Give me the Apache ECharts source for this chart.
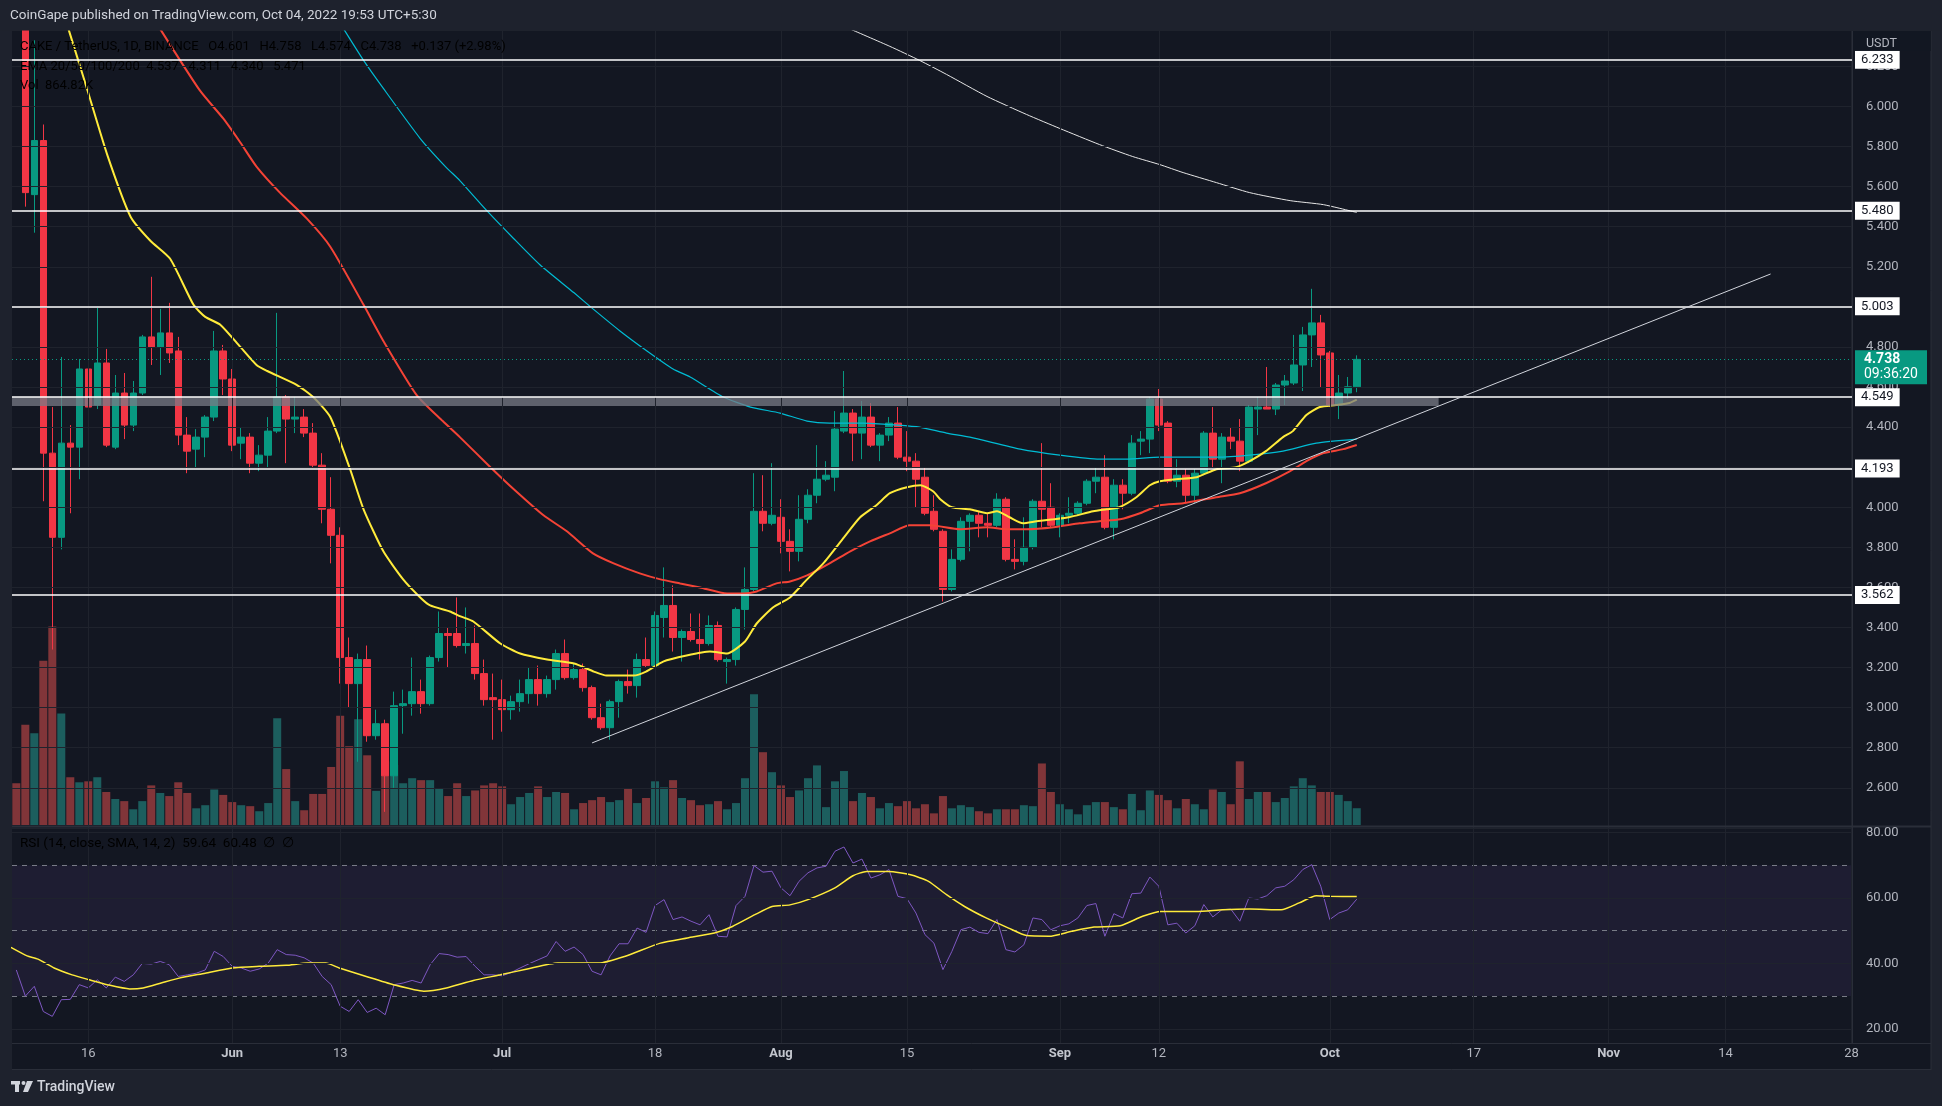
<!DOCTYPE html>
<html><head><meta charset="utf-8">
<script src="https://cdn.jsdelivr.net/npm/echarts@6/dist/echarts.min.js"></script>
<style>html,body{margin:0;padding:0;background:#1e222d;}#c{width:1942px;height:1106px;}</style>
</head><body><div id="c"></div>
<script>
// Day index 0 = 2022-05-09 ; first candle is 2022-05-08 (index -1)
const startIndex = -1;
const opens  = [7.10,6.70,5.56,5.83,4.27,3.85,4.32,4.30,4.69,4.51,4.72,4.30,4.57,4.41,4.57,4.85,4.80,4.87,4.78,4.36,4.29,4.35,4.45,4.78,4.64,4.32,4.35,4.22,4.26,4.38,4.55,4.44,4.45,4.37,4.21,3.99,3.86,3.25,3.12,3.24,2.86,2.92,2.66,3.01,3.02,3.08,3.02,3.25,3.37,3.37,3.31,3.32,3.17,3.05,3.04,2.99,3.03,3.07,3.14,3.07,3.14,3.27,3.15,3.19,3.10,2.95,2.90,3.03,3.13,3.11,3.24,3.21,3.45,3.51,3.35,3.38,3.34,3.32,3.41,3.23,3.24,3.49,3.59,3.98,3.92,3.95,3.83,3.78,3.94,4.06,4.14,4.15,4.38,4.47,4.37,4.45,4.31,4.36,4.42,4.25,4.23,4.15,3.98,3.88,3.59,3.74,3.93,3.96,3.92,3.91,4.04,3.74,3.73,3.80,4.03,4.00,3.91,3.96,3.97,4.02,4.13,4.15,3.90,4.11,4.07,4.33,4.34,4.54,4.42,4.13,4.16,4.06,4.17,4.37,4.24,4.35,4.33,4.23,4.49,4.50,4.49,4.61,4.62,4.71,4.86,4.92,4.77,4.51,4.57,4.601];
const highs  = [7.20,6.80,6.33,5.91,4.50,4.75,4.41,4.74,4.71,5.00,4.79,4.66,4.67,4.63,4.86,5.15,4.99,5.02,4.85,4.45,4.39,4.46,4.88,4.81,4.69,4.40,4.37,4.31,4.45,4.97,4.56,4.55,4.49,4.42,4.27,4.15,3.90,3.35,3.27,3.31,2.99,2.94,3.08,3.09,3.25,3.14,3.26,3.48,3.40,3.55,3.50,3.41,3.24,3.17,3.14,3.06,3.14,3.20,3.21,3.16,3.29,3.34,3.22,3.22,3.11,3.02,3.04,3.14,3.19,3.27,3.35,3.48,3.70,3.61,3.39,3.47,3.47,3.46,3.43,3.25,3.50,3.70,4.17,4.16,4.22,4.04,3.89,4.06,4.09,4.31,4.23,4.48,4.68,4.49,4.53,4.52,4.37,4.45,4.50,4.38,4.27,4.20,4.06,3.89,3.79,3.95,3.97,3.98,3.97,4.07,4.05,3.84,3.95,4.04,4.32,4.12,3.97,4.05,4.03,4.14,4.20,4.26,4.14,4.14,4.36,4.38,4.55,4.59,4.43,4.24,4.19,4.19,4.38,4.50,4.37,4.40,4.44,4.51,4.55,4.70,4.62,4.66,4.86,4.90,5.09,4.96,4.78,4.66,4.65,4.758];
const lows   = [6.60,5.50,5.37,4.03,3.29,3.79,3.97,4.14,4.35,4.49,4.30,4.29,4.34,4.38,4.56,4.71,4.66,4.72,4.31,4.17,4.20,4.25,4.43,4.56,4.28,4.24,4.17,4.18,4.20,4.37,4.22,4.37,4.35,4.20,3.92,3.72,3.12,3.00,2.73,2.83,2.84,2.48,2.60,2.87,2.96,2.97,3.01,3.23,3.20,3.30,3.27,3.14,3.01,2.84,2.88,2.94,2.98,3.02,3.01,3.05,3.09,3.14,3.14,3.08,2.94,2.89,2.84,2.95,3.07,3.05,3.20,3.20,3.35,3.28,3.23,3.33,3.24,3.31,3.23,3.12,3.21,3.39,3.58,3.88,3.91,3.77,3.68,3.73,3.92,4.02,4.13,4.08,4.37,4.23,4.24,4.30,4.23,4.33,4.24,4.18,4.00,3.96,3.88,3.53,3.58,3.73,3.78,3.85,3.85,3.90,3.73,3.69,3.71,3.79,3.90,3.90,3.85,3.92,3.96,4.01,4.07,3.89,3.84,3.99,4.06,4.26,4.27,4.38,4.12,4.10,4.02,4.02,4.16,4.20,4.12,4.29,4.18,4.22,4.36,4.49,4.46,4.51,4.61,4.58,4.70,4.60,4.50,4.44,4.54,4.574];
const closes = [6.70,5.57,5.83,4.27,3.85,4.32,4.30,4.69,4.50,4.72,4.31,4.57,4.41,4.57,4.85,4.80,4.87,4.77,4.36,4.28,4.35,4.45,4.78,4.64,4.31,4.35,4.22,4.26,4.38,4.55,4.44,4.45,4.37,4.21,3.99,3.86,3.25,3.12,3.24,2.86,2.92,2.66,3.01,3.02,3.08,3.02,3.25,3.37,3.36,3.31,3.32,3.17,3.04,3.04,2.99,3.03,3.07,3.14,3.07,3.14,3.27,3.15,3.19,3.10,2.95,2.90,3.03,3.13,3.11,3.24,3.21,3.46,3.51,3.35,3.38,3.34,3.32,3.41,3.24,3.24,3.49,3.59,3.98,3.92,3.96,3.83,3.78,3.94,4.06,4.14,4.16,4.39,4.47,4.37,4.45,4.31,4.36,4.42,4.25,4.23,4.14,3.97,3.89,3.59,3.74,3.93,3.96,3.92,3.91,4.04,3.74,3.73,3.80,4.03,3.99,3.91,3.96,3.97,4.02,4.13,4.15,3.90,4.11,4.07,4.32,4.34,4.54,4.41,4.13,4.16,4.06,4.17,4.37,4.24,4.35,4.33,4.23,4.50,4.50,4.49,4.61,4.63,4.71,4.86,4.92,4.76,4.51,4.57,4.601,4.738];
// volume in millions
const volumes = [2.15,5.16,4.72,8.46,10.22,5.74,2.46,2.20,2.25,2.46,1.70,1.34,1.23,0.81,1.23,2.04,1.65,1.49,2.20,1.65,0.86,1.02,1.83,1.55,1.18,1.02,0.97,0.71,1.13,5.50,2.88,1.23,0.76,1.60,1.60,2.99,5.63,4.06,5.45,3.59,1.76,3.28,3.09,2.15,2.41,2.31,2.31,1.89,1.49,2.15,1.49,1.78,2.04,2.15,1.99,1.07,1.44,1.65,1.99,1.44,1.70,1.65,0.81,1.13,1.28,1.44,1.18,1.28,1.89,1.13,1.39,2.25,1.94,2.31,1.39,1.28,1.02,1.07,1.23,0.81,1.13,2.41,6.73,3.75,2.72,2.04,1.44,1.78,2.41,3.07,0.92,2.25,2.78,1.23,1.65,1.44,0.86,1.13,0.97,1.23,0.86,1.07,0.60,1.49,0.86,1.02,0.92,0.71,0.60,0.81,0.81,0.81,1.02,0.97,3.17,1.70,1.07,0.81,0.55,1.02,1.18,1.18,0.92,0.81,1.60,0.76,1.78,1.55,1.28,0.86,1.34,1.07,0.81,1.83,1.70,1.07,3.28,1.34,1.70,1.70,1.18,1.39,1.99,2.41,2.04,1.70,1.70,1.55,1.23,0.86482];
const rsiValues = [38,30,33,25.3,23.8,28.9,29,33.5,32.5,35,32.5,35.8,34.5,36.5,40,39.8,40.6,39.6,36,36.5,37,38,43.7,42.1,39.1,38.6,37.6,38.3,40.1,44.2,42.7,42.5,41.7,40.1,36,33.5,26.9,25.3,28.9,25,26.3,24.3,33.5,34,34.8,34,39.6,43,42.7,41.9,42.1,39.1,36.5,36.5,36.2,37.2,38.6,39.9,41.1,42.3,46.7,43.7,45,42.7,37.6,36.5,42.3,46,46,50.8,49.5,57.7,59.5,53.4,54.2,52.9,51.8,54.9,48.3,48.1,57.7,60.5,69.9,67.9,68.2,63.1,60.7,65.1,67.7,69.2,69.7,74.3,75.6,70.7,71.9,66.1,67.1,68.7,60.5,59.8,55.4,48.8,46.2,38.1,43.7,50.3,51.1,49.5,49.1,53.4,44.2,43.5,45.7,53.9,53.4,50.3,51.5,52.1,53.9,57.7,58.3,48.3,55.2,53.9,61.3,61.5,66.4,63.6,51.8,52.3,49.3,51.5,58,54.2,56.4,56.6,52.9,60,59.7,60.7,63.1,63.6,65.6,68.7,70.2,63.6,53.4,55.4,56.4,59.64];
const rsiMaPoints = [[-1.6,44.9],[0.2,42.3],[1.4,41.3],[3.2,38.6],[5.2,36.5],[7.1,35],[9.1,33.5],[11.6,32.2],[13.1,32.5],[15.1,34],[17.1,35.5],[20,37],[23,38.6],[26,39.1],[29,39.4],[31.4,40.1],[33.4,40.1],[34.9,38.6],[37.9,36],[40.9,33.5],[44.3,31.5],[46.8,32.5],[49.8,34.8],[52.8,36.5],[55.8,38.3],[59.2,40.1],[63.7,40.1],[66.7,42.2],[70.6,46.2],[73.6,47.8],[76.6,49.3],[78.6,51.3],[81.1,54.9],[83,57.4],[85,57.9],[87,59.5],[90,63.1],[92,66.8],[93.5,68.1],[96,68.1],[98.4,67.1],[100.4,65.1],[102.4,61],[104.4,57.4],[106.8,53.9],[109.3,50.8],[111.3,48.5],[113.8,48.3],[116.3,49.8],[118.8,51.1],[121.7,51.5],[124.2,54.4],[126.2,55.9],[130.2,55.9],[133.1,56.4],[136.1,56.6],[139.6,56.4],[141.6,58.5],[143.5,60.7],[145,60.5],[148,60.48]];
const ema20Points = [[4.8,6.386],[6.85,6.09],[9.1,5.76],[11.7,5.45],[13.9,5.33],[16.1,5.24],[18.7,5.01],[20,4.95],[21.7,4.91],[23.9,4.80],[25.7,4.71],[26.9,4.68],[30.2,4.61],[32,4.55],[33.9,4.45],[36.1,4.19],[37.6,3.99],[39.8,3.78],[42,3.64],[43.9,3.55],[45,3.51],[47.2,3.48],[48.3,3.457],[49.8,3.43],[52.8,3.32],[55,3.27],[58,3.24],[61,3.22],[63.2,3.18],[64.6,3.16],[67.6,3.16],[69,3.18],[70.9,3.23],[73.5,3.26],[76.1,3.28],[78,3.27],[80,3.33],[81.3,3.42],[83.1,3.50],[85,3.55],[86.9,3.64],[88.7,3.72],[91,3.85],[92.8,3.95],[94.6,4.01],[96.1,4.07],[98,4.10],[99.5,4.11],[100.9,4.08],[101.7,4.04],[103,4.00],[105,3.99],[106.9,3.97],[108,3.98],[109.4,3.95],[110.9,3.92],[112.4,3.93],[114.3,3.94],[116,3.95],[118.7,3.98],[120.2,3.99],[121.6,4.00],[123.5,4.05],[125,4.11],[126.1,4.13],[127.9,4.14],[130.2,4.15],[132.4,4.19],[134.6,4.20],[136.1,4.23],[137.9,4.28],[139.8,4.35],[140.9,4.38],[142.4,4.46],[143.9,4.50],[145.7,4.51],[147.2,4.52],[148,4.537]];
const ema50Points = [[15,6.386],[19.4,6.08],[22,5.94],[23.9,5.82],[25.7,5.70],[28.3,5.57],[31.3,5.44],[33.9,5.30],[37.6,5.01],[39.8,4.83],[43.5,4.56],[46.4,4.43],[48.3,4.35],[51.7,4.20],[54.3,4.09],[57.6,3.96],[60.2,3.88],[63.1,3.77],[65.4,3.72],[68.3,3.67],[70.6,3.64],[72.8,3.62],[75,3.60],[78,3.57],[79.8,3.57],[81.3,3.58],[83.5,3.62],[85,3.63],[86.9,3.66],[89.4,3.72],[91.7,3.78],[93.9,3.83],[96.1,3.87],[98.3,3.91],[100.6,3.91],[103.9,3.89],[106.9,3.90],[109.1,3.89],[111.3,3.89],[114.3,3.90],[117.2,3.92],[119.4,3.93],[121.7,3.94],[123.9,3.97],[126.1,4.01],[128.7,4.02],[132.4,4.05],[135,4.07],[137.9,4.12],[140.6,4.18],[142.4,4.23],[144.3,4.27],[146.5,4.29],[148,4.311]];
const ema100Points = [[35.4,6.386],[37.6,6.23],[39.8,6.09],[43.9,5.84],[46.7,5.70],[48.3,5.63],[51.3,5.48],[54.3,5.34],[57.2,5.21],[61,5.07],[63.1,4.99],[66.1,4.88],[69.1,4.78],[72,4.69],[73.9,4.65],[77.6,4.55],[80.6,4.50],[83.9,4.47],[86.9,4.43],[89.4,4.42],[93.1,4.42],[96.9,4.41],[99.4,4.40],[102.4,4.37],[105,4.35],[110.6,4.29],[115,4.26],[119.4,4.24],[122.4,4.24],[126.1,4.25],[128.7,4.25],[132.4,4.25],[136.1,4.26],[139.8,4.28],[143.5,4.32],[148,4.340]];
const ema200Points = [[91.7,6.386],[96.1,6.30],[99.4,6.23],[102.4,6.16],[106.9,6.05],[111.3,5.96],[115,5.89],[119.4,5.81],[123.1,5.75],[126.1,5.71],[128.7,5.67],[132.4,5.62],[136.1,5.57],[140.6,5.53],[144.3,5.51],[148,5.471]];
const levels = [6.233, 5.480, 5.003, 4.549, 4.193, 3.562];
const zoneBand = [4.505, 4.549];
const zoneEndDay = 157.1;
const trendPoints = [[63.0, 2.824], [194.0, 5.164]];
const tickDays   = [7, 23, 35, 53, 70, 84, 98, 115, 126, 145, 161, 176, 189, 203];
const tickLabels = ['16','Jun','13','Jul','18','Aug','15','Sep','12','Oct','17','Nov','14','28'];
const monthLabels = ['Jun','Jul','Aug','Sep','Oct','Nov'];
const priceTicks = {min: 2.4, max: 6.4, step: 0.2};
const rsiTicks = {min: 20, max: 80, step: 20};
const rsiBand = [30, 70];
const rsiDashed = [70, 50, 30];
const countdown = '09:36:20';
const changeText = '+0.137 (+2.98%)';
const headerText = 'CoinGape published on TradingView.com, Oct 04, 2022 19:53 UTC+5:30';

const FONT = 'Roboto, "Noto Sans", sans-serif';
const UP = '#089981', DN = '#f23645';
const VOL_UP = 'rgba(38,166,154,0.5)', VOL_DN = 'rgba(239,83,80,0.5)';
const GRIDC = '#1f232d';
const xMin = -1.48, xMax = 203.05;
const last = closes.length - 1;
const lastClose = closes[last];

const candleData = opens.map((o, k) => [startIndex + k, o, closes[k], lows[k], highs[k]]);
const volData = volumes.map((v, k) => ({value: [startIndex + k, v], itemStyle: {color: closes[k] >= opens[k] ? VOL_UP : VOL_DN}}));
const rsiData = rsiValues.map((v, k) => [startIndex + k, v]);

function xAx(g, extra) {
  return Object.assign({type: 'value', gridIndex: g, min: xMin, max: xMax, axisLine: {show: false}, axisTick: {show: false}, axisLabel: {show: false}, splitLine: {show: false}}, extra || {});
}
const chart = echarts.init(document.getElementById('c'), null, {width: 1942, height: 1106});

const lvlItems = levels.map(v => ({yAxis: v, label: {formatter: v.toFixed(3)}}));
lvlItems.push({yAxis: lastClose, lineStyle: {color: UP, type: [1, 3], width: 1}, label: {show: false}});

function richSet(fs) {
  return {
    t: {color: '#c3c6ce', fontSize: fs, fontFamily: FONT},
    g: {color: '#22ab94', fontSize: fs, fontFamily: FONT},
    y: {color: '#ffeb3b', fontSize: fs, fontFamily: FONT},
    r: {color: '#f44336', fontSize: fs, fontFamily: FONT},
    c: {color: '#00bcd4', fontSize: fs, fontFamily: FONT},
    w: {color: '#ffffff', fontSize: fs, fontFamily: FONT},
    p: {color: '#7e57c2', fontSize: fs, fontFamily: FONT}
  };
}
const f3 = v => v.toFixed(3);
const lastVol = (volumes[last] * 1000).toFixed(2) + 'K';
const line1 = '{t|CAKE / TetherUS, 1D, BINANCE}{t|   O}{g|' + f3(opens[last]) + '}{t|   H}{g|' + f3(highs[last]) + '}{t|   L}{g|' + f3(lows[last]) + '}{t|   C}{g|' + f3(lastClose) + '}{g|   ' + changeText + '}';
const line2 = '{t|EMA 20/50/100/200}{y|  ' + f3(ema20Points[ema20Points.length-1][1]) + '}{r|   ' + f3(ema50Points[ema50Points.length-1][1]) + '}{c|   ' + f3(ema100Points[ema100Points.length-1][1]) + '}{w|   ' + f3(ema200Points[ema200Points.length-1][1]) + '}';
const line3 = '{t|Vol}{g|  ' + lastVol + '}';
const rsiLine = '{t|RSI (14, close, SMA, 14, 2)}{p|  ' + rsiValues[last].toFixed(2) + '}{y|  ' + rsiMaPoints[rsiMaPoints.length-1][1].toFixed(2) + '}{t|  \u2205  \u2205}';

const option = {
  backgroundColor: '#1e222d',
  animation: false,
  grid: [
    {left: 12, right: 90, top: 26.3, height: 801.6},
    {left: 12, right: 90, top: 31, height: 794},
    {left: 12, right: 90, top: 832.6, height: 196.2},
    {left: 12, right: 90, top: 31, height: 1012}
  ],
  xAxis: [
    xAx(0), xAx(1), xAx(2),
    xAx(3, {
      z: 40,
      axisTick: {show: false, customValues: tickDays},
      splitLine: {show: true, lineStyle: {color: GRIDC, width: 1}},
      axisLabel: {
        show: true, customValues: tickDays, margin: 4, color: '#b2b5be', fontSize: 13, fontFamily: FONT,
        formatter: v => { const k = tickDays.indexOf(v); const s = k >= 0 ? tickLabels[k] : ''; return monthLabels.indexOf(s) >= 0 ? '{m|' + s + '}' : s; },
        rich: {m: {fontWeight: 'bold', color: '#c3c6ce', fontSize: 13, fontFamily: FONT}}
      }
    })
  ],
  yAxis: [
    {type: 'value', gridIndex: 0, position: 'right', min: priceTicks.min, max: priceTicks.max, interval: priceTicks.step, z: 60,
     axisLine: {show: false}, axisTick: {show: false},
     axisLabel: {color: '#b2b5be', fontSize: 13, margin: 14, fontFamily: FONT, formatter: v => v.toFixed(3), showMinLabel: false, showMaxLabel: false},
     splitLine: {lineStyle: {color: GRIDC}}},
    {type: 'value', gridIndex: 1, min: 0, max: 40.9, show: false},
    {type: 'value', gridIndex: 2, position: 'right', min: rsiTicks.min, max: rsiTicks.max, interval: rsiTicks.step, z: 60,
     axisLine: {show: false}, axisTick: {show: false},
     axisLabel: {color: '#b2b5be', fontSize: 13, margin: 14, fontFamily: FONT, formatter: v => v.toFixed(2)},
     splitLine: {lineStyle: {color: GRIDC}}},
    {type: 'value', gridIndex: 3, min: 0, max: 1, show: false}
  ],
  series: [
    {type: 'bar', name: 'Vol', xAxisIndex: 1, yAxisIndex: 1, data: volData, barWidth: 8, z: 1},
    {type: 'candlestick', name: 'CAKE', xAxisIndex: 0, yAxisIndex: 0, data: candleData,
     dimensions: ['day', 'open', 'close', 'low', 'high'], encode: {x: 0, y: [1, 2, 3, 4]}, barWidth: 7, z: 3,
     itemStyle: {color: UP, color0: DN, borderColor: UP, borderColor0: DN, borderWidth: 1}},
    {type: 'line', name: 'EMA200', xAxisIndex: 0, yAxisIndex: 0, data: ema200Points, symbol: 'none', smooth: 0.2, lineStyle: {color: '#e6e6e6', width: 1}, z: 4},
    {type: 'line', name: 'EMA100', xAxisIndex: 0, yAxisIndex: 0, data: ema100Points, symbol: 'none', smooth: 0.2, lineStyle: {color: '#00bcd4', width: 1.2}, z: 4},
    {type: 'line', name: 'EMA50', xAxisIndex: 0, yAxisIndex: 0, data: ema50Points, symbol: 'none', smooth: 0.2, lineStyle: {color: '#f44336', width: 2}, z: 4},
    {type: 'line', name: 'EMA20', xAxisIndex: 0, yAxisIndex: 0, data: ema20Points, symbol: 'none', smooth: 0.2, lineStyle: {color: '#ffeb3b', width: 2}, z: 4},
    {type: 'line', name: 'Trend', xAxisIndex: 0, yAxisIndex: 0, data: trendPoints, symbol: 'none', lineStyle: {color: '#d1d4dc', width: 1}, z: 70,
     markArea: {silent: true, z: 6, itemStyle: {color: 'rgba(120,123,134,0.75)'},
       data: [[{xAxis: xMin, yAxis: zoneBand[0]}, {xAxis: zoneEndDay, yAxis: zoneBand[1]}]]},
     markLine: {silent: true, z: 70, precision: 3, symbol: ['none', 'none'], animation: false,
       lineStyle: {color: '#ffffff', width: 1.5, type: 'solid'},
       label: {show: true, position: 'end', distance: 3, color: '#131722', backgroundColor: '#ffffff',
               padding: [3, 6, 2, 6], fontSize: 13, fontFamily: FONT},
       data: lvlItems},
     markPoint: {silent: true, z: 72, animation: false,
       data: [{coord: [xMax, lastClose], symbol: 'rect', symbolSize: [72, 34], symbolOffset: [39, 8], itemStyle: {color: UP},
               label: {show: true, position: 'inside', formatter: '{a|' + f3(lastClose) + '}\n{b|' + countdown + '}',
                       rich: {a: {color: '#ffffff', fontSize: 14, fontWeight: 'bold', lineHeight: 15, fontFamily: FONT, width: 54, align: 'left'},
                              b: {color: '#ffffff', fontSize: 14, lineHeight: 15, fontFamily: FONT, width: 54, align: 'left'}}}}]}
    },
    {type: 'line', name: 'RSI', xAxisIndex: 2, yAxisIndex: 2, data: rsiData, symbol: 'none', lineStyle: {color: '#7e57c2', width: 1}, z: 4,
     markArea: {silent: true, z: 1, itemStyle: {color: 'rgba(126,87,194,0.1)'}, data: [[{yAxis: rsiBand[0]}, {yAxis: rsiBand[1]}]]},
     markLine: {silent: true, z: 3, symbol: ['none', 'none'], animation: false, label: {show: false},
       lineStyle: {color: '#787b86', type: [5, 5], width: 1}, data: rsiDashed.map(v => ({yAxis: v}))}},
    {type: 'line', name: 'RSI MA', xAxisIndex: 2, yAxisIndex: 2, data: rsiMaPoints, symbol: 'none', smooth: 0.2, lineStyle: {color: '#ffeb3b', width: 1.5}, z: 5}
  ],
  graphic: [
    {type: 'rect', z: -10, silent: true, shape: {x: 12, y: 31, width: 1919, height: 1039}, style: {fill: '#131722'}},
    {type: 'rect', z: 50, silent: true, shape: {x: 1852.5, y: 31, width: 78.5, height: 1012}, style: {fill: '#131722'}},
    {type: 'rect', z: 50, silent: true, shape: {x: 1860, y: 1044, width: 71, height: 25}, style: {fill: '#131722'}},
    {type: 'line', z: 55, silent: true, shape: {x1: 12, y1: 826.5, x2: 1931, y2: 826.5}, style: {stroke: '#2a2e39', lineWidth: 2}},
    {type: 'line', z: 55, silent: true, shape: {x1: 12, y1: 1043.5, x2: 1931, y2: 1043.5}, style: {stroke: '#2a2e39', lineWidth: 1}},
    {type: 'line', z: 55, silent: true, shape: {x1: 1852.5, y1: 31, x2: 1852.5, y2: 1043}, style: {stroke: '#2a2e39', lineWidth: 1}},
    {type: 'line', z: 55, silent: true, shape: {x1: 1931, y1: 31, x2: 1931, y2: 1070}, style: {stroke: '#2a2e39', lineWidth: 1}},
    {type: 'line', z: 55, silent: true, shape: {x1: 12, y1: 1069.5, x2: 1931, y2: 1069.5}, style: {stroke: '#2a2e39', lineWidth: 1}},
    {type: 'rect', z: 80, silent: true, shape: {x: 0, y: 0, width: 1942, height: 30.5}, style: {fill: '#1e222d'}},
    {type: 'text', z: 81, silent: true, x: 10, y: 16, style: {text: headerText, fill: '#d1d4dc', fontSize: 13.5, fontFamily: FONT, verticalAlign: 'middle'}},
    {type: 'rect', z: 75, silent: true, shape: {x: 1853, y: 31, width: 78, height: 20}, style: {fill: '#131722', opacity: 0.85}},
    {type: 'text', z: 76, silent: true, x: 1866, y: 44, style: {text: 'USDT', fill: '#b2b5be', fontSize: 12.5, fontFamily: FONT, verticalAlign: 'middle'}},
    {type: 'text', zlevel: 1, z: 90, silent: true, x: 20, y: 47, style: {text: line1, rich: richSet(13), verticalAlign: 'middle'}},
    {type: 'text', zlevel: 1, z: 90, silent: true, x: 20, y: 67, style: {text: line2, rich: richSet(13), verticalAlign: 'middle'}},
    {type: 'text', zlevel: 1, z: 90, silent: true, x: 20, y: 86, style: {text: line3, rich: richSet(13), verticalAlign: 'middle'}},
    {type: 'text', zlevel: 1, z: 90, silent: true, x: 20, y: 844, style: {text: rsiLine, rich: richSet(13.5), verticalAlign: 'middle'}},
    {type: 'rect', z: 90, silent: true, shape: {x: 11, y: 1081, width: 9, height: 3.5}, style: {fill: '#d1d4dc'}},
    {type: 'rect', z: 90, silent: true, shape: {x: 15, y: 1081, width: 4, height: 11}, style: {fill: '#d1d4dc'}},
    {type: 'circle', z: 90, silent: true, shape: {cx: 23.5, cy: 1083, r: 2}, style: {fill: '#d1d4dc'}},
    {type: 'polygon', z: 90, silent: true, shape: {points: [[27, 1081], [33, 1081], [28, 1092], [23, 1092]]}, style: {fill: '#d1d4dc'}},
    {type: 'text', z: 90, silent: true, x: 37, y: 1087, style: {text: 'TradingView', fill: '#d1d4dc', fontSize: 14, fontWeight: 500, fontFamily: FONT, verticalAlign: 'middle'}}
  ]
};
chart.setOption(option);
</script></body></html>
